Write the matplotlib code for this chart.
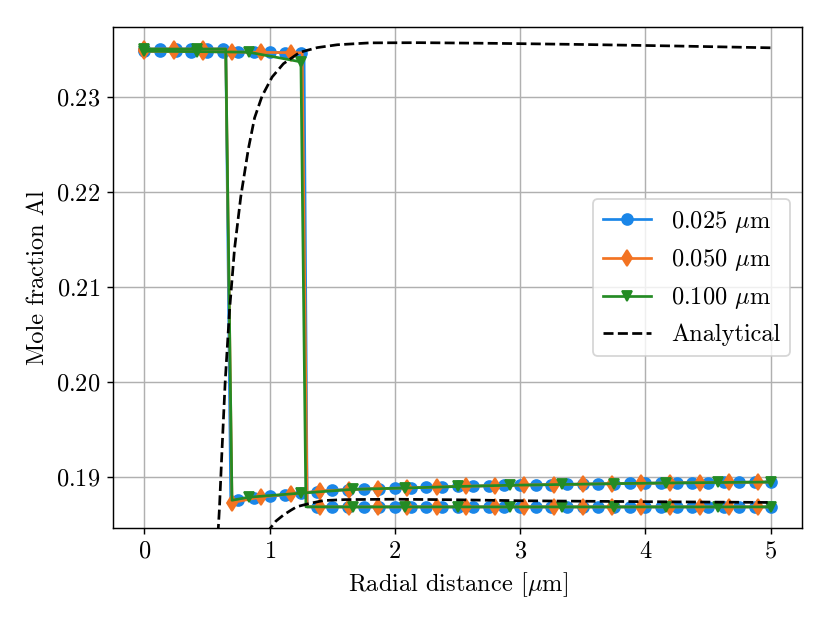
import matplotlib
matplotlib.use('Agg')
from matplotlib import pyplot as plt

plt.rcParams['font.family'] = 'serif'
plt.rcParams['font.serif'] = ['cmr10', 'DejaVu Serif']
plt.rcParams['mathtext.fontset'] = 'cm'
plt.rcParams['axes.formatter.use_mathtext'] = True
plt.rcParams['font.size'] = 13.5

# 0.025 um grid, two profiles (step near 0.67 and near 1.28)
bx1 = [0, 0.125, 0.25, 0.375, 0.5, 0.625, 0.65, 0.69, 0.75, 0.875, 1.0, 1.125,
       1.25, 1.375, 1.5, 1.625, 1.75, 1.875, 2.0, 2.125, 2.25, 2.375, 2.5, 2.625,
       2.75, 2.875, 3.0, 3.125, 3.25, 3.375, 3.5, 3.625, 3.75, 3.875, 4.0, 4.125,
       4.25, 4.375, 4.5, 4.625, 4.75, 4.875, 5.0]
by1 = [0.23505, 0.23505, 0.23505, 0.23505, 0.23505, 0.23505, 0.23505, 0.18752,
       0.18762, 0.18779, 0.18796, 0.18813, 0.18830, 0.18847, 0.18862, 0.18868,
       0.18873, 0.18878, 0.18882, 0.18887, 0.18891, 0.18896, 0.18900, 0.18904,
       0.18908, 0.18911, 0.18915, 0.18918, 0.18920, 0.18923, 0.18925, 0.18927,
       0.18930, 0.18932, 0.18934, 0.18936, 0.18938, 0.18939, 0.18941, 0.18943,
       0.18944, 0.18946, 0.18947]
b_corner1 = [6, 7]

bx2 = [0, 0.125, 0.25, 0.375, 0.5, 0.625, 0.75, 0.875, 1.0, 1.125, 1.25, 1.275,
       1.3, 1.375, 1.5, 1.625, 1.75, 1.875, 2.0, 2.125, 2.25, 2.375, 2.5, 2.625,
       2.75, 2.875, 3.0, 3.125, 3.25, 3.375, 3.5, 3.625, 3.75, 3.875, 4.0, 4.125,
       4.25, 4.375, 4.5, 4.625, 4.75, 4.875, 5.0]
by2 = [0.23482, 0.23481, 0.23480, 0.23479, 0.23478, 0.23476, 0.23474, 0.23472,
       0.23470, 0.23468, 0.23466, 0.23465, 0.18686, 0.18685, 0.18685, 0.18685,
       0.18685, 0.18685, 0.18685, 0.18685, 0.18685, 0.18685, 0.18685, 0.18685,
       0.18685, 0.18685, 0.18685, 0.18685, 0.18685, 0.18685, 0.18685, 0.18685,
       0.18685, 0.18685, 0.18685, 0.18685, 0.18685, 0.18685, 0.18685, 0.18685,
       0.18685, 0.18685, 0.18685]
b_corner2 = [11, 12]

# 0.050 um grid
ox1 = [0, 0.233, 0.467, 0.65, 0.7, 0.933, 1.167, 1.4, 1.633, 1.867, 2.1, 2.333,
       2.567, 2.8, 3.033, 3.267, 3.5, 3.733, 3.967, 4.2, 4.433, 4.667, 4.9, 5.0]
oy1 = [0.23505, 0.23505, 0.23505, 0.23505, 0.18730, 0.18790, 0.18821, 0.18851,
       0.18868, 0.18878, 0.18885, 0.18894, 0.18902, 0.18909, 0.18915, 0.18920,
       0.18925, 0.18929, 0.18933, 0.18937, 0.18940, 0.18943, 0.18946, 0.18947]
o_corner1 = [3, 23]

ox2 = [0, 0.233, 0.467, 0.7, 0.933, 1.167, 1.26, 1.3, 1.4, 1.633, 1.867, 2.1,
       2.333, 2.567, 2.8, 3.033, 3.267, 3.5, 3.733, 3.967, 4.2, 4.433, 4.667, 4.9, 5.0]
oy2 = [0.23482, 0.23480, 0.23478, 0.23474, 0.23470, 0.23467, 0.23465, 0.18686,
       0.18685, 0.18685, 0.18685, 0.18685, 0.18685, 0.18685, 0.18685, 0.18685,
       0.18685, 0.18685, 0.18685, 0.18685, 0.18685, 0.18685, 0.18685, 0.18685,
       0.18685]
o_corner2 = [6, 7, 24]

# 0.100 um grid
gx1 = [0, 0.417, 0.65, 0.7, 0.833, 1.25, 1.667, 2.083, 2.5, 2.917, 3.333, 3.75,
       4.167, 4.583, 5.0]
gy1 = [0.23505, 0.23505, 0.23505, 0.18755, 0.18787, 0.18830, 0.18870, 0.18884,
       0.18900, 0.18913, 0.18921, 0.18930, 0.18937, 0.18942, 0.18947]
g_corner1 = [2, 3]

gx2 = [0, 0.417, 0.833, 1.25, 1.29, 1.667, 2.083, 2.5, 2.917, 3.333, 3.75, 4.167,
       4.583, 5.0]
gy2 = [0.23482, 0.23478, 0.23472, 0.23370, 0.18686, 0.18685, 0.18685, 0.18685,
       0.18685, 0.18685, 0.18685, 0.18685, 0.18685, 0.18685]
g_corner2 = [4]

# analytical solutions
ax1_x = [0.588, 0.600, 0.620, 0.645, 0.680, 0.720, 0.770, 0.830, 0.880, 0.940,
         1.020, 1.110, 1.240, 1.380, 1.540, 1.800, 2.200, 2.800, 3.500, 4.200, 5.0]
ax1_y = [0.1840, 0.1868, 0.1928, 0.1999, 0.2075, 0.2140, 0.2195, 0.2245, 0.2278,
         0.2301, 0.2321, 0.2335, 0.2347, 0.2352, 0.2355, 0.23570, 0.23572, 0.23565,
         0.23553, 0.23538, 0.23518]
ax2_x = [0.985, 1.005, 1.050, 1.111, 1.170, 1.217, 1.324, 1.430, 1.600, 2.000,
         2.500, 3.000, 4.000, 5.0]
ax2_y = [0.18400, 0.18460, 0.18535, 0.18600, 0.18650, 0.18687, 0.18723, 0.18752,
         0.18762, 0.18766, 0.18760, 0.18750, 0.18740, 0.18732]

c_blue = '#1a86e8'
c_orange = '#f37322'
c_green = '#248b24'


def marks(n, corners):
    return [i for i in range(n) if i not in corners]


fig = plt.figure(figsize=(830 / 130, 623 / 130), dpi=130)
ax = fig.add_axes([113 / 830, 1 - 528 / 623, 689 / 830, 501 / 623])

ax.plot(bx1, by1, color=c_blue, marker='o', markevery=marks(len(bx1), b_corner1),
        label=r'0.025 $\mu$m')
ax.plot(bx2, by2, color=c_blue, marker='o', markevery=marks(len(bx2), b_corner2))
ax.plot(ox1, oy1, color=c_orange, marker='d', markevery=marks(len(ox1), o_corner1),
        label=r'0.050 $\mu$m')
ax.plot(ox2, oy2, color=c_orange, marker='d', markevery=marks(len(ox2), o_corner2))
ax.plot(gx1, gy1, color=c_green, marker='v', markevery=marks(len(gx1), g_corner1),
        label=r'0.100 $\mu$m')
ax.plot(gx2, gy2, color=c_green, marker='v', markevery=marks(len(gx2), g_corner2))
ax.plot(ax1_x, ax1_y, 'k--', label='Analytical')
ax.plot(ax2_x, ax2_y, 'k--')

ax.set_xlim(-0.25, 5.25)
ax.set_ylim(0.18463, 0.23737)
ax.set_yticks([0.19, 0.20, 0.21, 0.22, 0.23])
ax.set_xlabel(r'Radial distance [$\mu$m]')
ax.set_ylabel('Mole fraction Al')
ax.grid(True)
ax.legend(loc='center right')

fig.savefig('out.png', dpi=130)
